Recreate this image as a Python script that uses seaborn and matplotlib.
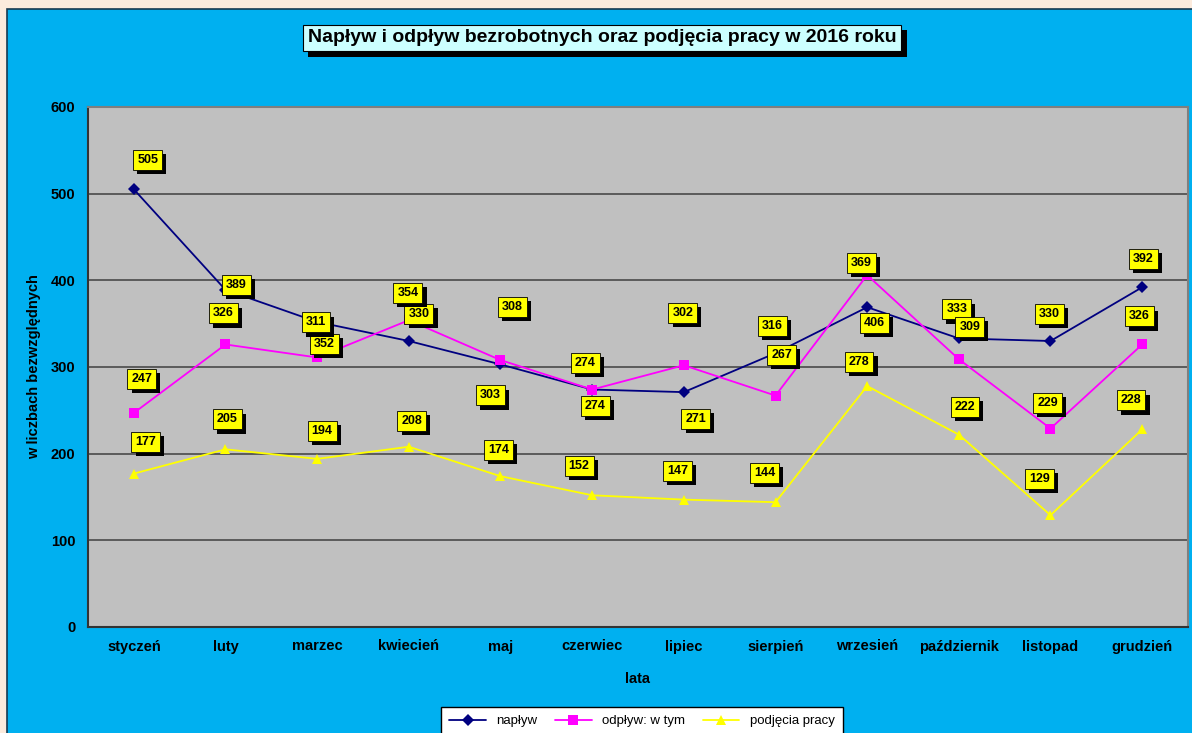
import numpy as np
import pandas as pd
import matplotlib
matplotlib.use("Agg")
import matplotlib.pyplot as plt
import matplotlib.patheffects as pe
from matplotlib.patches import Rectangle
import seaborn as sns

months = ["styczeń", "luty", "marzec", "kwiecień", "maj", "czerwiec",
          "lipiec", "sierpień", "wrzesień", "październik", "listopad", "grudzień"]
naplyw = [505, 389, 352, 330, 303, 274, 271, 316, 369, 333, 330, 392]
odplyw = [247, 326, 311, 354, 308, 274, 302, 267, 406, 309, 229, 326]
podjecia = [177, 205, 194, 208, 174, 152, 147, 144, 278, 222, 129, 228]
series_names = ["napływ", "odpływ: w tym", "podjęcia pracy"]

# label offsets in pixels (dx, dy) relative to each point - hand placed like in the original
naplyw_off = [(14, 29), (11, 5), (7, -22), (10, 27), (-10, -31), (3, -16),
              (12, -27), (-3, 27), (-6, 44), (-2, 29), (-1, 27), (1, 28)]
odplyw_off = [(8, 34), (-2, 31), (-1, 35), (-1, 27), (12, 53), (-7, 27),
              (-1, 52), (6, 41), (7, -48), (11, 32), (-3, 26), (-3, 28)]
podjecia_off = [(12, 32), (2, 30), (5, 28), (3, 26), (-2, 26), (-13, 29),
                (-6, 29), (-11, 29), (-8, 24), (6, 28), (-11, 36), (-11, 29)]

colors = {"napływ": "#000080", "odpływ: w tym": "#FF00FF", "podjęcia pracy": "#FFFF00"}
markers = {"napływ": "D", "odpływ: w tym": "s", "podjęcia pracy": "^"}

x = np.arange(len(months))
df = pd.DataFrame({
    "x": np.tile(x, 3),
    "wartosc": naplyw + odplyw + podjecia,
    "seria": np.repeat(series_names, len(months)),
})

sns.set_style("white")
plt.rcParams["font.family"] = ["Liberation Sans", "DejaVu Sans"]
plt.rcParams["text.color"] = "black"
plt.rcParams["axes.labelcolor"] = "black"
plt.rcParams["xtick.color"] = "black"
plt.rcParams["ytick.color"] = "black"

fig = plt.figure(figsize=(11.92, 7.33), dpi=100)
fig.patch.set_facecolor("#FCEBDD")
fig.patches.append(Rectangle((7 / 1192, -0.01), 1.0, 1.01 - 9 / 733, transform=fig.transFigure,
                             facecolor="#00B0F0", edgecolor="#1A3A50", linewidth=1.2, zorder=-5))

ax = fig.add_axes([88 / 1192, 1 - 627 / 733, 1100 / 1192, 520 / 733])
ax.set_facecolor("#C0C0C0")

sns.lineplot(data=df, x="x", y="wartosc", hue="seria", style="seria",
             palette=colors, markers=markers, dashes=False, linewidth=1.3,
             markersize=7.5, markeredgewidth=0, ax=ax, legend=True, zorder=3)
# diamond a bit smaller
for line in ax.lines:
    if line.get_marker() == "D":
        line.set_markersize(6)

ax.set_xlim(-0.5, len(months) - 0.5)
ax.set_ylim(0, 600)
ax.set_yticks(range(0, 601, 100))
ax.grid(axis="y", color="#4A4A4A", linewidth=1.2)
ax.set_axisbelow(True)
ax.set_xticks(x)
ax.set_xticklabels(months, fontsize=10.5, fontweight="bold")
ax.set_xticks(np.arange(-0.5, len(months)), minor=True)
ax.tick_params(axis="x", which="major", length=0, pad=9)
ax.tick_params(axis="x", which="minor", length=5, width=1.2, color="#333333")
ax.tick_params(axis="y", length=5, width=1.2, color="#333333", labelsize=10.5, pad=4)
for lab in ax.get_yticklabels():
    lab.set_fontweight("bold")
for side in ["left", "bottom"]:
    ax.spines[side].set_color("#333333")
    ax.spines[side].set_linewidth(1.5)
for side in ["top", "right"]:
    ax.spines[side].set_color("#7F7F7F")
    ax.spines[side].set_linewidth(1.5)

ax.set_xlabel("lata", fontsize=10.5, fontweight="bold", labelpad=13)
ax.set_ylabel("w liczbach bezwzględnych", fontsize=10.5, fontweight="bold", labelpad=7)

# data labels in yellow boxes with a black shadow
shadow = [pe.withSimplePatchShadow(offset=(3, -3), shadow_rgbFace="black", alpha=1.0)]
for vals, offs in [(naplyw, naplyw_off), (odplyw, odplyw_off), (podjecia, podjecia_off)]:
    for xi, v, (dx, dy) in zip(x, vals, offs):
        t = ax.annotate(str(v), (xi, v), xytext=(dx, dy), textcoords="offset pixels",
                        ha="center", va="center", fontsize=9, fontweight="bold",
                        bbox=dict(boxstyle="square,pad=0.32", facecolor="#FFFF00",
                                  edgecolor="black", linewidth=0.6), zorder=5)
        t.get_bbox_patch().set_path_effects(shadow)

# title box
title = fig.text(602 / 1192, 1 - 38 / 733, "Napływ i odpływ bezrobotnych oraz podjęcia pracy w 2016 roku",
                 ha="center", va="center", fontsize=14, fontweight="bold",
                 bbox=dict(boxstyle="square,pad=0.25", facecolor="#CCFFFF",
                           edgecolor="black", linewidth=0.8))
title.get_bbox_patch().set_path_effects(
    [pe.withSimplePatchShadow(offset=(4, -4), shadow_rgbFace="black", alpha=1.0)])

# legend at the bottom, like Excel
handles, labels = ax.get_legend_handles_labels()
ax.get_legend().remove()
leg = fig.legend(handles, labels, loc="upper center", ncol=3,
                 bbox_to_anchor=(642 / 1192, 1 - 707 / 733), borderaxespad=0,
                 frameon=True, fancybox=False, fontsize=9.5, handlelength=2.8,
                 columnspacing=1.3, borderpad=0.6)
leg.get_frame().set_edgecolor("black")
leg.get_frame().set_facecolor("white")
leg.get_frame().set_linewidth(1.0)
leg.get_frame().set_alpha(1)

fig.savefig("out.png", dpi=100, facecolor=fig.get_facecolor())
